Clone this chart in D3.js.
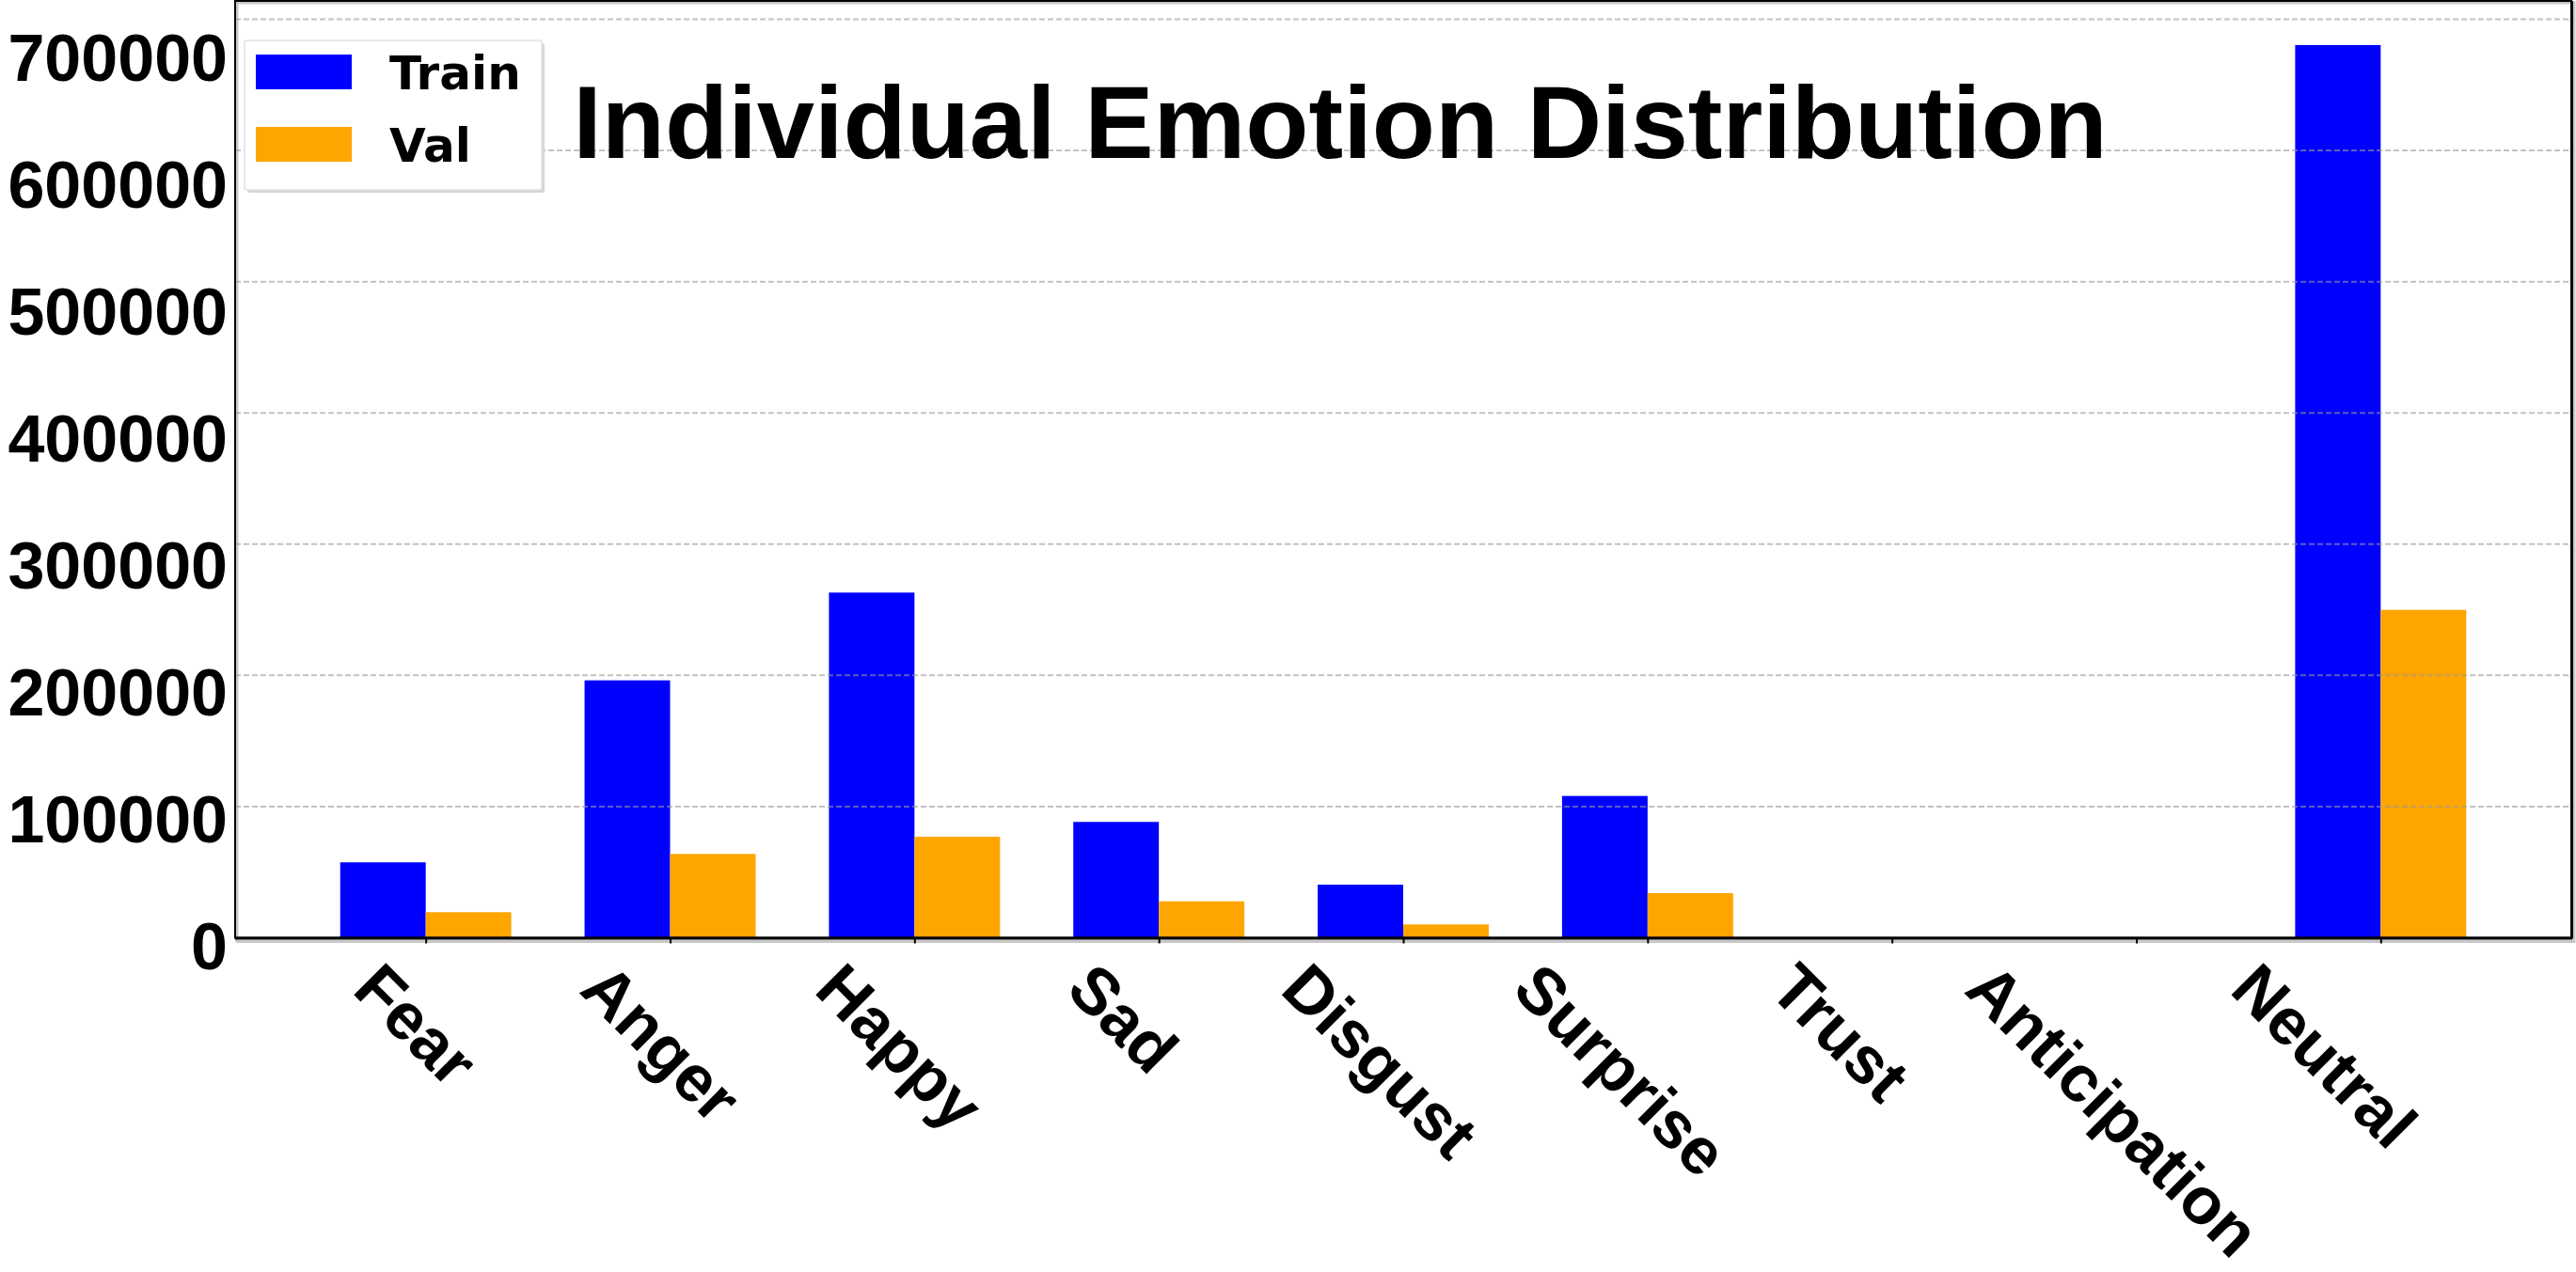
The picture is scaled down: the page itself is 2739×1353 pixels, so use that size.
<!DOCTYPE html>
<html>
<head>
<meta charset="utf-8">
<script src="https://cdn.jsdelivr.net/npm/d3@7/dist/d3.min.js"></script>
<style>
  html, body { margin: 0; padding: 0; background: #ffffff; }
  svg { display: block; }
</style>
</head>
<body>
<svg id="chart" width="2739" height="1353"></svg>
<script>
// ---- data ----
const categories = ["Fear", "Anger", "Happy", "Sad", "Disgust", "Surprise", "Trust", "Anticipation", "Neutral"];
const trainValues = [57500, 196200, 263100, 88300, 40500, 108100, 0, 0, 680400];
const valValues = [19500, 63900, 77000, 27800, 10200, 34000, 0, 0, 249900];
const yTickValues = [0, 100000, 200000, 300000, 400000, 500000, 600000, 700000];
const seriesNames = ["Train", "Val"];
const seriesColors = ["#0000ff", "#ffa500"];
const titleText = "Individual Emotion Distribution";

// ---- layout ----
const W = 2739, H = 1353;
const plot = { left: 250, right: 2734, top: 1, bottom: 997.5 };
const barW = 0.35;
const svg = d3.select("#chart");
svg.append("rect").attr("width", W).attr("height", H).attr("fill", "#fff");

const x = d3.scaleLinear().domain([-0.78, 8.78]).range([plot.left, plot.right]);
const y = d3.scaleLinear().domain([0, 714000]).range([plot.bottom, plot.top]);

const series = [trainValues, valValues];
const offsets = [-barW, 0];

// frame shadow
svg.append("rect")
  .attr("x", plot.left + 2).attr("y", plot.top + 2)
  .attr("width", plot.right - plot.left + 1).attr("height", plot.bottom - plot.top + 2)
  .attr("fill", "none").attr("stroke", "#c8c8c8").attr("stroke-width", 3);

// bars
series.forEach((vals, s) => {
  svg.append("g").selectAll("rect").data(vals).join("rect")
    .attr("x", (d, i) => x(i + offsets[s]))
    .attr("width", x(barW) - x(0))
    .attr("y", d => y(d))
    .attr("height", d => y(0) - y(d))
    .attr("fill", seriesColors[s]);
});

// gridlines (drawn on top, semi transparent)
svg.append("g").selectAll("line").data(yTickValues.filter(v => v > 0)).join("line")
  .attr("x1", plot.left).attr("x2", plot.right)
  .attr("y1", d => y(d)).attr("y2", d => y(d))
  .attr("stroke", "#9a9a9a").attr("stroke-opacity", 0.6)
  .attr("stroke-width", 2).attr("stroke-dasharray", "6,3");

// frame
svg.append("rect")
  .attr("x", plot.left).attr("y", plot.top)
  .attr("width", plot.right - plot.left).attr("height", plot.bottom - plot.top)
  .attr("fill", "none").attr("stroke", "#000").attr("stroke-width", 2);
svg.append("line")
  .attr("x1", plot.left).attr("x2", plot.right + 1)
  .attr("y1", plot.bottom + 0.5).attr("y2", plot.bottom + 0.5)
  .attr("stroke", "#000").attr("stroke-width", 3);
svg.append("line")
  .attr("x1", plot.right + 0.5).attr("x2", plot.right + 0.5)
  .attr("y1", plot.top).attr("y2", plot.bottom + 1)
  .attr("stroke", "#000").attr("stroke-width", 3);

// x ticks via d3 axis
const xAxis = d3.axisBottom(x).tickValues(d3.range(categories.length))
  .tickSize(5).tickFormat("");
const gx = svg.append("g").attr("transform", `translate(0,${plot.bottom + 1})`).call(xAxis);
gx.select(".domain").remove();
gx.selectAll(".tick line").attr("stroke", "#000").attr("stroke-width", 2);

// x tick labels (rotated 45deg clockwise)
const fontX = 70;
const n = categories.length;
const labelX = d3.scaleLinear().domain([0, n - 1])
  .range([x(0) - 52, x(n - 1) - 52 - 65]);
const xLabelStartY = 1055;
const xl = svg.append("g").selectAll("text").data(categories).join("text")
  .attr("font-family", "'Liberation Sans', Arial, Helvetica, sans-serif")
  .attr("font-weight", "bold").attr("font-size", fontX)
  .attr("fill", "#000").attr("text-anchor", "start")
  .text(d => d);
xl.each(function(d, i) {
  const L = this.getComputedTextLength();
  const sx = labelX(i) - 0.187 * L;
  d3.select(this).attr("transform", `translate(${sx},${xLabelStartY}) rotate(45)`);
});

// y tick labels
const fontY = 70;
const yLabelPos = d3.scaleLinear().domain([0, 700000]).range([1006, 61]);
svg.append("g").selectAll("text").data(yTickValues).join("text")
  .attr("x", 242)
  .attr("y", d => yLabelPos(d) + 25)
  .attr("text-anchor", "end")
  .attr("font-family", "'Liberation Sans', Arial, Helvetica, sans-serif")
  .attr("font-weight", "bold").attr("font-size", fontY)
  .attr("fill", "#000")
  .text(d => String(d));

// title
svg.append("text")
  .attr("x", 1425).attr("y", 168)
  .attr("text-anchor", "middle")
  .attr("font-family", "'Liberation Sans', Arial, Helvetica, sans-serif")
  .attr("font-weight", "bold").attr("font-size", 110)
  .attr("fill", "#000")
  .text(titleText);

// legend
const lg = svg.append("g");
lg.append("rect").attr("x", 263).attr("y", 46).attr("width", 316).attr("height", 159)
  .attr("rx", 3).attr("fill", "#d6d6d6");
lg.append("rect").attr("x", 260).attr("y", 43).attr("width", 316).attr("height", 159)
  .attr("rx", 3).attr("fill", "#fff").attr("stroke", "#e2e2e2").attr("stroke-width", 1.5);
seriesNames.forEach((name, s) => {
  const top = 58 + s * 77;
  lg.append("rect").attr("x", 272).attr("y", top).attr("width", 102).attr("height", 37)
    .attr("fill", seriesColors[s]);
  lg.append("text").attr("x", 414).attr("y", top + 37)
    .attr("font-family", "'DejaVu Sans', sans-serif")
    .attr("font-weight", "bold").attr("font-size", 50)
    .attr("fill", "#000")
    .text(name);
});
</script>
</body>
</html>
